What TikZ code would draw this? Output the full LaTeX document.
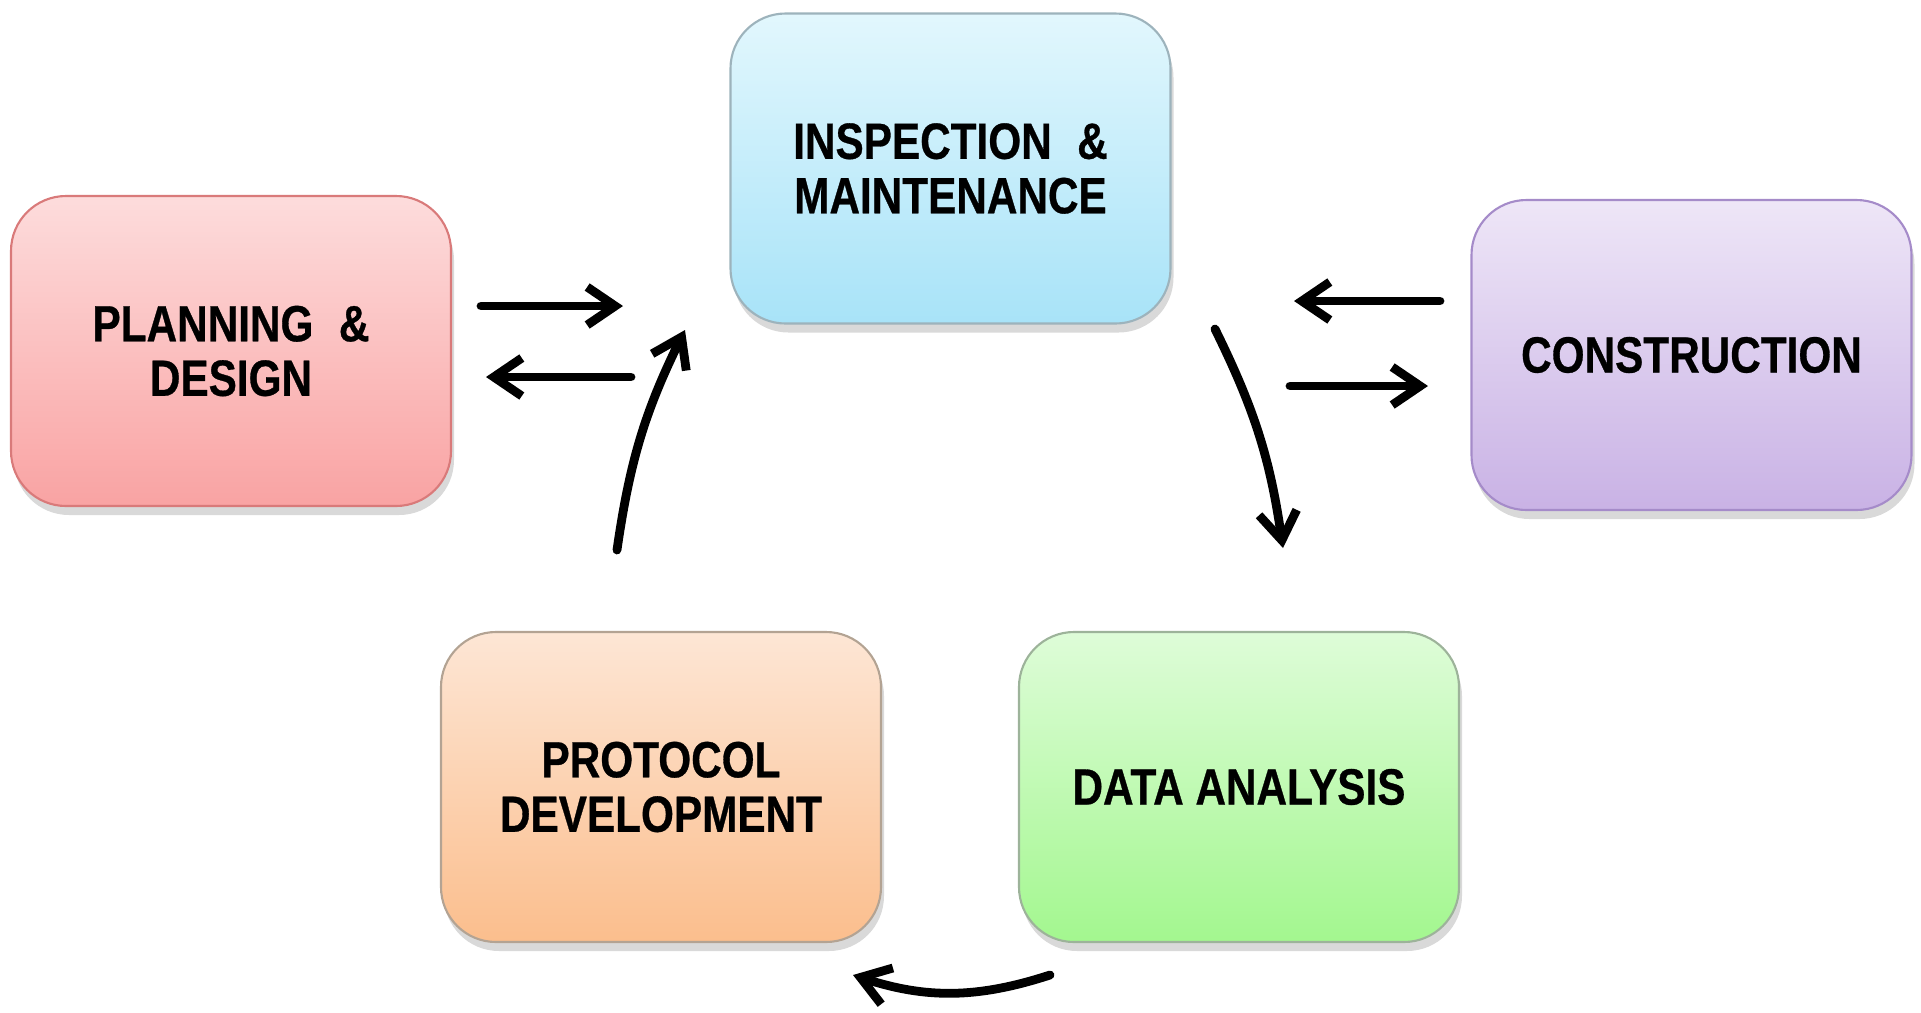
\documentclass[tikz,border=0pt]{standalone}
\usepackage{fontspec}
\usepackage{tikz}
\usetikzlibrary{arrows.meta,shadows}
\newfontfamily\boxfont[FakeStretch=0.83, FakeBold=0.6]{Liberation Sans}

\definecolor{plantop}{HTML}{FDDCDC}
\definecolor{planbot}{HTML}{F9A3A3}
\definecolor{planline}{HTML}{D97A7A}
\definecolor{insptop}{HTML}{E2F7FD}
\definecolor{inspbot}{HTML}{A8E3F8}
\definecolor{inspline}{HTML}{9DB3BC}
\definecolor{constop}{HTML}{EEE6F7}
\definecolor{consbot}{HTML}{C9B2E5}
\definecolor{consline}{HTML}{A58BC9}
\definecolor{prottop}{HTML}{FDE6D5}
\definecolor{protbot}{HTML}{FBBE8D}
\definecolor{protline}{HTML}{B3A393}
\definecolor{datatop}{HTML}{DEFCD8}
\definecolor{databot}{HTML}{A3F78F}
\definecolor{dataline}{HTML}{9DB39A}

\tikzset{
    stagebox/.style={rectangle, rounded corners=5.5mm, line width=0.6pt,
        minimum width=4.4cm, minimum height=3.1cm, align=center,
        font=\boxfont\bfseries\fontsize{14.5}{15.5}\selectfont,
        drop shadow={shadow xshift=0.3mm, shadow yshift=-0.9mm, opacity=0.3}}
}
\tikzset{flow/.style={-{Straight Barb[length=2.8mm, width=3.8mm]}, line width=2.5pt, line cap=round, line join=round}}

\begin{document}
\begin{tikzpicture}
    \useasboundingbox (0, 0) rectangle (19.21, -10.12);

    \node (plan) [stagebox, draw=planline, top color=plantop, bottom color=planbot] at (2.31, -3.51) {PLANNING\enspace\&\\DESIGN};
    \node (insp) [stagebox, draw=inspline, top color=insptop, bottom color=inspbot] at (9.505, -1.685) {INSPECTION\enspace\&\\MAINTENANCE};
    \node (cons) [stagebox, draw=consline, top color=constop, bottom color=consbot] at (16.915, -3.55) {CONSTRUCTION};
    \node (prot) [stagebox, draw=protline, top color=prottop, bottom color=protbot] at (6.61, -7.87) {PROTOCOL\\DEVELOPMENT};
    \node (data) [stagebox, draw=dataline, top color=datatop, bottom color=databot] at (12.39, -7.87) {DATA ANALYSIS};

    \coordinate (pi1) at (4.81, -3.06);
    \coordinate (pi2) at (6.23, -3.06);
    \coordinate (ip1) at (6.31, -3.77);
    \coordinate (ip2) at (4.86, -3.77);
    \coordinate (ci1) at (14.40, -3.01);
    \coordinate (ci2) at (12.94, -3.01);
    \coordinate (ic1) at (12.90, -3.86);
    \coordinate (ic2) at (14.28, -3.86);
    \coordinate (id1) at (12.15, -3.29);
    \coordinate (id2) at (12.83, -5.48);
    \coordinate (dp1) at (10.50, -9.75);
    \coordinate (dp2) at (8.53, -9.75);
    \coordinate (pr1) at (6.17, -5.50);
    \coordinate (pr2) at (6.85, -3.30);

    \draw[flow] (pi1) -- (pi2);
    \draw[flow] (ip1) -- (ip2);
    \draw[flow] (ci1) -- (ci2);
    \draw[flow] (ic1) -- (ic2);
    \draw[flow] (id1) to[bend left=9] (id2);
    \draw[flow] (dp1) to[bend left=18] (dp2);
    \draw[flow] (pr1) to[bend left=9] (pr2);
\end{tikzpicture}
\end{document}
